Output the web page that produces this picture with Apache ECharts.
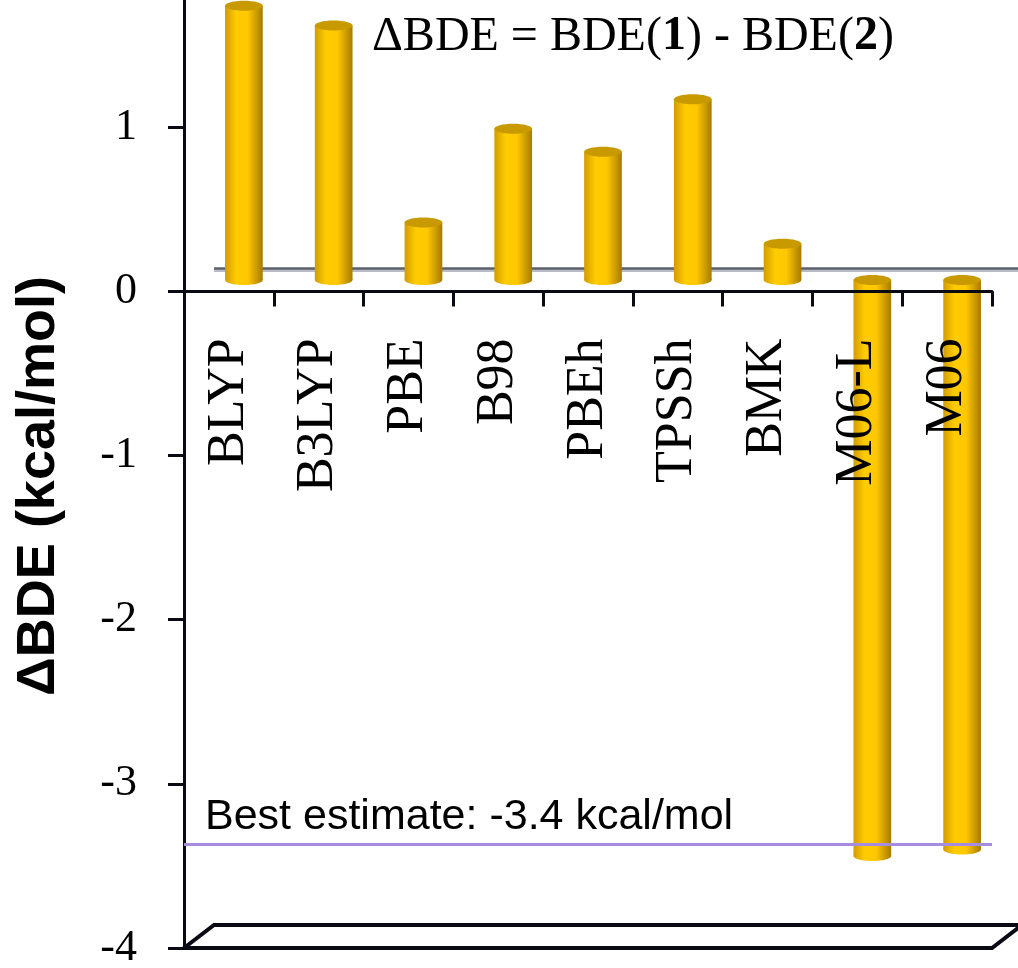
<!DOCTYPE html>
<html>
<head>
<meta charset="utf-8">
<title>ΔBDE</title>
<script src="https://cdn.jsdelivr.net/npm/echarts@6/dist/echarts.min.js"></script>
<style>
  html, body { margin: 0; padding: 0; background: #fff; }
  #chart { width: 1018px; height: 968px; }
</style>
</head>
<body>
<div id="chart"></div>
<script>
// 泛函名称
var methods = ['BLYP', 'B3LYP', 'PBE', 'B98', 'PBEh', 'TPSSh', 'BMK', 'M06-L', 'M06'];
// ΔBDE = BDE(1) - BDE(2)，单位 kcal/mol
var deltaBDE = [1.67, 1.55, 0.35, 0.92, 0.78, 1.10, 0.22, -3.51, -3.47];
// 纵轴范围
var yMin = -4;
var yMax = 1.775;
var yStep = 1;
// 最佳估计值
var bestEstimate = -3.37;

var serifFont = '"Times New Roman", "Liberation Serif", serif';
var sansFont = 'Arial, "Liberation Sans", sans-serif';

// 网格
var gridTop = 0, gridBottom = 20, chartHeight = 968;
var gridHeight = chartHeight - gridTop - gridBottom;
// 横轴放在 0 的位置
var xAxisOffset = -gridHeight * (0 - yMin) / (yMax - yMin);

// 3D 效果的深度偏移
var depthX = 30, depthY = -23;

var bodyColor = new echarts.graphic.LinearGradient(0, 0, 1, 0, [
    { offset: 0, color: '#d29c00' },
    { offset: 0.3, color: '#ffcc00' },
    { offset: 0.6, color: '#ffc800' },
    { offset: 1, color: '#a67b00' }
]);

// 圆柱
function renderCylinder(params, api) {
    var base = api.coord([api.value(0), 0]);
    var end = api.coord([api.value(0), api.value(1)]);
    var bw = api.size([1, 0])[0] * 0.42;
    var cx = base[0] + depthX / 2;
    var y0 = base[1] + depthY / 2;
    var y1 = end[1] + depthY / 2;
    var top = Math.min(y0, y1), bottom = Math.max(y0, y1);
    var ry = 5;
    return {
        type: 'group',
        children: [
            { type: 'ellipse', shape: { cx: cx, cy: bottom, rx: bw / 2, ry: ry }, style: { fill: bodyColor } },
            { type: 'rect', shape: { x: cx - bw / 2, y: top, width: bw, height: bottom - top }, style: { fill: bodyColor } },
            { type: 'ellipse', shape: { cx: cx, cy: top, rx: bw / 2, ry: ry }, style: { fill: '#c99a00' } }
        ]
    };
}

// 底面和零平面后沿
function renderFloor(params, api) {
    var cs = params.coordSys;
    var zero = api.coord([0, 0])[1];
    var yb = api.coord([0, yMin])[1];
    var xl = cs.x, xr = cs.x + cs.width;
    return {
        type: 'group',
        children: [
            { type: 'line', shape: { x1: xl + depthX, y1: zero + depthY + 2, x2: xr + depthX + 40, y2: zero + depthY + 2 },
              style: { stroke: '#b9bcc6', lineWidth: 3 } },
            { type: 'line', shape: { x1: xl + depthX, y1: zero + depthY, x2: xr + depthX + 40, y2: zero + depthY },
              style: { stroke: '#5d616b', lineWidth: 2.5 } },
            { type: 'polygon', shape: { points: [[xl, yb], [xl + depthX, yb + depthY], [xr + depthX, yb + depthY], [xr, yb]] },
              style: { fill: '#fff', stroke: '#0a0a14', lineWidth: 4 } }
        ]
    };
}

var chart = echarts.init(document.getElementById('chart'));

var option = {
    animation: false,
    backgroundColor: '#fff',
    title: [
        {
            text: '{n|ΔBDE = BDE(}{b|1}{n|) - BDE(}{b|2}{n|)}',
            left: 372,
            top: 13,
            padding: 0,
            textStyle: {
                fontWeight: 'normal',
                rich: {
                    n: { fontFamily: serifFont, fontSize: 48, fontWeight: 'normal', color: '#000' },
                    b: { fontFamily: serifFont, fontSize: 48, fontWeight: 'bold', color: '#000' }
                }
            }
        },
        {
            text: 'Best estimate: -3.4 kcal/mol',
            left: 205,
            top: 796,
            padding: 0,
            textStyle: { fontFamily: sansFont, fontSize: 43, fontWeight: 'normal', color: '#000' }
        }
    ],
    grid: { left: 184, right: 26, top: gridTop, bottom: gridBottom, containLabel: false, outerBoundsMode: 'none' },
    xAxis: {
        type: 'category',
        data: methods,
        position: 'bottom',
        offset: xAxisOffset,
        z: 5,
        axisLine: { onZero: false, lineStyle: { color: '#0a0a14', width: 3 } },
        axisTick: { show: true, length: 15, interval: 0, lineStyle: { color: '#0a0a14', width: 3 } },
        axisLabel: {
            interval: 0,
            rotate: 90,
            margin: 47,
            fontFamily: serifFont,
            fontSize: 52,
            color: '#000'
        },
        splitLine: { show: false }
    },
    yAxis: {
        type: 'value',
        min: yMin,
        max: yMax,
        interval: yStep,
        name: 'ΔBDE (kcal/mol)',
        nameLocation: 'middle',
        nameRotate: 90,
        nameGap: 118,
        nameTextStyle: {
            fontFamily: sansFont, fontSize: 54, fontWeight: 'bold', color: '#000',
            padding: [0, 24, 0, 0]
        },
        axisLine: { show: true, lineStyle: { color: '#0a0a14', width: 3 } },
        axisTick: { show: true, length: 16, lineStyle: { color: '#0a0a14', width: 3 } },
        axisLabel: {
            showMaxLabel: false,
            margin: 47,
            fontFamily: serifFont,
            fontSize: 44,
            color: '#000',
            formatter: function (v) { return v % 1 === 0 ? String(v) : ''; }
        },
        splitLine: { show: false }
    },
    series: [
        {
            type: 'custom',
            name: 'floor',
            renderItem: renderFloor,
            data: [[0, 0]],
            z: 1,
            silent: true
        },
        {
            type: 'custom',
            name: 'ΔBDE',
            renderItem: renderCylinder,
            data: deltaBDE.map(function (v, i) { return [i, v]; }),
            z: 2,
            markLine: {
                silent: true,
                symbol: 'none',
                label: { show: false },
                lineStyle: { color: '#a68ce0', width: 3, type: 'solid' },
                data: [{ yAxis: bestEstimate }]
            }
        }
    ]
};

chart.setOption(option);
</script>
</body>
</html>
